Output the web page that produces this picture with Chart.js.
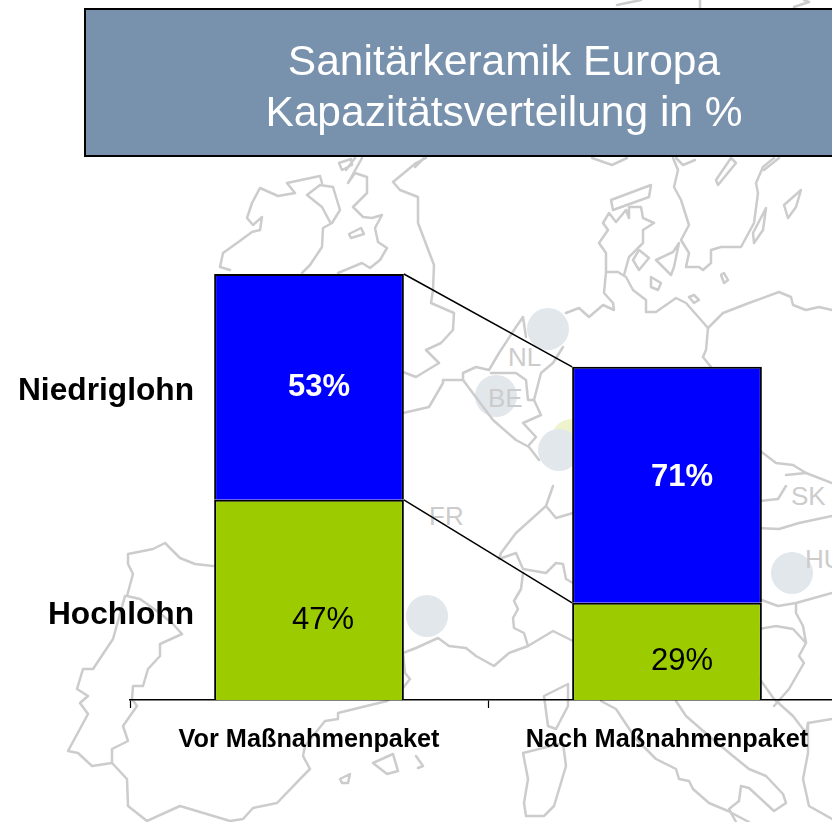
<!DOCTYPE html>
<html lang="de"><head><meta charset="utf-8">
<script src="https://cdn.jsdelivr.net/npm/chart.js@4"></script>
<style>
html,body{margin:0;padding:0;background:#fff;overflow:hidden;width:832px;height:822px}
#map,#c{position:absolute;left:0;top:0}
#map polyline,#map polygon{fill:none;stroke:#ccc;stroke-width:2.5;stroke-linejoin:round;stroke-linecap:round}
#map circle{fill:#e2e7ec}
#map text{font:26px "Liberation Sans",Arial,sans-serif;fill:#ccc}
#head{position:absolute;left:84px;top:8px;width:800px;height:145px;background:#7891ad;border:2.5px solid #000;box-sizing:content-box}
#head div{position:absolute;left:-84px;width:1004px;text-align:center;color:#fff;font:42.5px "Liberation Sans",Arial,sans-serif;white-space:nowrap}
</style></head><body>
<svg id="map" width="832" height="822">
<circle cx="572" cy="440" r="21" style="fill:#eef3cc"/>
<circle cx="548" cy="329" r="21"/><circle cx="496" cy="396" r="21"/><circle cx="559" cy="450" r="21"/><circle cx="427" cy="616" r="21"/><circle cx="792" cy="573" r="21"/>
<g id="lines">
<polyline points="230,270 220,267 223,253 237,243 252,232 260,230 262,217 253,225 247,218 252,203 260,188 278,196 295,193 287,183 320,176 322,183"/>
<polyline points="302,273 310,265 322,247 323,228 332,223 340,210 333,187 320,185 307,195 322,207 330,222"/>
<polyline points="362,158 348,183 355,173 367,177 367,193 353,207 363,217 372,218 382,215 375,228 378,242 387,248 380,260 370,268 362,263 338,273"/>
<polygon points="339,163 351,159 352,165 342,170"/><polygon points="349,234 361,228 364,234 351,238"/>
<polyline points="426,158 416,163 393,182 400,190 418,197 418,223 434,265 433,290 431,303 454,313 453,330 441,343 426,350 439,363 416,377 403,372"/>
<polyline points="403,413 416,410 429,407 443,383 443,380 463,380 493,420 516,440 529,447 539,460"/>
<polyline points="463,380 463,373 476,367 489,370 499,353 516,327 523,317 526,337"/>
<polyline points="563,347 553,363 541,373 534,400 541,415 523,423 536,437 529,445"/>
<polyline points="491,373 516,373 526,380 528,400 534,400"/>
<polyline points="566,313 579,308 589,317 603,305 614,310 613,303 604,293 606,272 618,272 626,277 633,290 646,300 646,312 656,312 676,298 686,303 708,328 723,313 749,303 779,292 791,297 793,305 806,310 819,307 832,310"/>
<polyline points="708,328 706,350 703,357 711,367"/>
<polyline points="606,272 606,253 599,243 608,230 603,223 609,213 616,222 626,210 629,218 629,207 641,207 643,218 654,223 643,230 643,243 629,257 624,275"/>
<polygon points="611,200 651,185 649,197 613,210"/>
<polyline points="673,158 678,170 674,187 681,200 689,225 681,240 689,253 686,267 699,267 703,270 711,263 711,250 721,247 741,247 754,223 758,193 756,183 763,167 774,158"/>
<polygon points="633,260 639,250 649,258 639,270"/><polygon points="656,260 673,252 679,243 674,267 671,275"/>
<polygon points="651,277 661,283 658,290 651,287"/><polygon points="721,275 724,273 728,280 724,283"/><polygon points="689,297 694,295 699,300 694,303"/>
<polygon points="766,208 763,230 754,243 753,233"/><polygon points="784,205 801,190 796,207 788,218"/><polygon points="716,180 731,158 736,163 718,185"/>
<polyline points="759,450 776,463 793,465 806,473 832,483"/><polyline points="786,475 806,473"/>
<polyline points="553,486 546,506 556,518 573,513"/>
<polyline points="546,506 516,533 501,553 499,559 516,553 523,569 546,573 556,563 563,564 566,579 573,583"/>
<polyline points="523,573 521,589 514,601 518,609 513,618 514,628 524,633 528,646 553,631 573,641"/>
<polyline points="528,646 509,653 494,666 476,656 466,648 449,646 438,638 416,648 403,653 405,673 410,679 403,688 387,701 338,713 338,719 325,721 305,746 303,756 310,769 303,776 277,803 253,808 243,819 230,821 180,806 147,821 128,806 127,779 112,763 112,749 128,741 123,726 137,706 132,699 133,686 143,686 148,669 160,656 160,644 182,634 172,623 157,611 140,599 127,596 133,574 128,564 128,554 153,549 165,543 180,558 195,564 213,566"/>
<polyline points="125,596 113,639 93,669 83,669 77,689 88,696 80,703 88,714 68,751 78,753 92,766 112,763"/>
<polygon points="373,763 393,754 398,771 387,774"/><polygon points="340,779 350,774 348,783 342,783"/><polyline points="416,756 423,766 418,768"/>
<polygon points="568,684 544,696 548,726 556,729 568,706"/>
<polygon points="523,753 563,743 566,766 554,806 544,816 526,816 524,803 528,779"/>
<polyline points="601,701 616,709 636,739 656,759 676,769 679,779 689,781 693,789 709,803 728,811 749,822"/>
<polyline points="676,701 686,716 709,736 733,756 749,769 766,776 783,794 786,803 774,811 749,788 741,786 739,801 729,809 736,822"/>
<polyline points="759,678 774,699 793,716 806,733 808,723 832,719"/><polyline points="808,723 808,753 803,779 809,806 832,819"/>
<polyline points="759,629 776,626 793,629 806,643 799,656 804,663 789,689 774,706"/>
<polyline points="759,599 778,606 796,603 832,593"/><polyline points="796,603 796,613 803,626 806,643"/>
<polyline points="759,501 778,499 786,486"/><polyline points="759,528 779,529 799,523 832,516"/>
<polyline points="346,170 355,158"/><polyline points="415,167 424,158"/><polyline points="592,158 612,165 627,158"/><polyline points="676,158 683,165 695,160"/><polyline points="764,170 779,158"/>
<polyline points="617,5 641,0"/><polyline points="700,0 700,8"/><polyline points="794,7 809,2 804,0"/>
</g>
<text x="508" y="366">NL</text><text x="488" y="407">BE</text><text x="429" y="525">FR</text><text x="791" y="505">SK</text><text x="805" y="568">HU</text>
</svg>
<canvas id="c" width="900" height="822" style="width:900px;height:822px"></canvas>
<div id="head"><div style="top:27px">Sanitärkeramik Europa</div><div style="top:78px">Kapazitätsverteilung in %</div></div>
<script>
const categories = ["Vor Maßnahmenpaket", "Nach Maßnahmenpaket"];
const hochlohn = [47, 22.8];
const niedriglohn = [53, 55.4];
const hochlohnLabels = ["47%", "29%"];
const niedriglohnLabels = ["53%", "71%"];
const FONT = '"Liberation Sans", Arial, sans-serif';

const decorations = {
  id: "decorations",
  afterDatasetsDraw(chart) {
    const ctx = chart.ctx;
    const low = chart.getDatasetMeta(0).data, high = chart.getDatasetMeta(1).data;
    const half = b => b.width / 2;
    ctx.save();
    ctx.strokeStyle = "#000"; ctx.lineWidth = 1.5;
    [high, low].forEach(m => {
      ctx.beginPath();
      ctx.moveTo(m[0].x + half(m[0]), m[0].y);
      ctx.lineTo(m[1].x - half(m[1]), m[1].y);
      ctx.stroke();
    });
    ctx.textAlign = "center"; ctx.textBaseline = "middle";
    hochlohnLabels.forEach((t, i) => {
      const b = low[i];
      ctx.font = "31px " + FONT; ctx.fillStyle = "#000";
      ctx.fillText(t, b.x + (i ? 15 : 14), (b.y + b.base) / 2 + (i ? 10 : 21));
    });
    niedriglohnLabels.forEach((t, i) => {
      const b = high[i];
      ctx.font = "bold 31px " + FONT; ctx.fillStyle = "#fff";
      ctx.fillText(t, b.x + (i ? 15 : 10), (b.y + b.base) / 2 + (i ? -7 : 1));
    });
    ctx.textAlign = "right"; ctx.fillStyle = "#000"; ctx.font = "bold 31.7px " + FONT;
    ctx.fillText("Niedriglohn", 194, (high[0].y + high[0].base) / 2 + 4);
    ctx.fillText("Hochlohn", 194, (low[0].y + low[0].base) / 2 + 15);
    ctx.restore();
  }
};

new Chart(document.getElementById("c"), {
  type: "bar",
  data: {
    labels: categories,
    datasets: [
      { label: "Hochlohn", data: hochlohn, backgroundColor: "#9ccc00", borderColor: "#000", borderWidth: 2 },
      { label: "Niedriglohn", data: niedriglohn, backgroundColor: "#0000ff", borderColor: "#000", borderWidth: 2 }
    ]
  },
  options: {
    responsive: false, animation: false,
    layout: { padding: { left: 130, right: 54, top: 274, bottom: 0 } },
    datasets: { bar: { barPercentage: 0.53, categoryPercentage: 1 } },
    plugins: { legend: { display: false }, title: { display: false }, tooltip: { enabled: false } },
    scales: {
      x: {
        stacked: true,
        afterFit(s) { s.height = 122; },
        border: { color: "#000", width: 1.5 },
        grid: { offset: true, drawOnChartArea: false, color: "#000", tickLength: 8, tickWidth: 1.2 },
        ticks: { color: "#000", font: { family: FONT, size: 25.3, weight: "bold" }, padding: 17, maxRotation: 0, autoSkip: false }
      },
      y: { stacked: true, display: false, min: 0, max: 100 }
    }
  },
  plugins: [decorations]
});
</script>
</body></html>
